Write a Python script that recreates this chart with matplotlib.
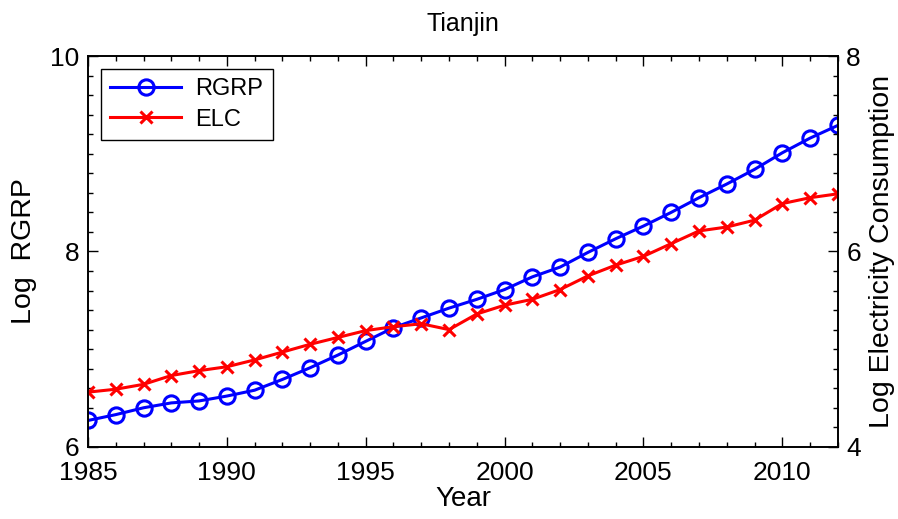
import numpy as np
import matplotlib
matplotlib.use("Agg")
import matplotlib.pyplot as plt
from matplotlib.ticker import MultipleLocator

plt.rcParams['font.family'] = ['Liberation Sans', 'DejaVu Sans']

years = np.arange(1985, 2013)
rgrp = [6.27, 6.33, 6.40, 6.45, 6.47, 6.52, 6.58, 6.69, 6.81, 6.94,
        7.08, 7.22, 7.32, 7.42, 7.51, 7.61, 7.74, 7.84, 7.99, 8.13,
        8.26, 8.40, 8.55, 8.69, 8.84, 9.01, 9.16, 9.29]
elc = [4.56, 4.59, 4.64, 4.73, 4.78, 4.82, 4.89, 4.97, 5.05, 5.12,
       5.19, 5.23, 5.26, 5.20, 5.36, 5.45, 5.51, 5.61, 5.75, 5.86,
       5.95, 6.08, 6.21, 6.25, 6.32, 6.49, 6.55, 6.59]

fig = plt.figure(figsize=(8.98, 5.19), dpi=100)
ax = fig.add_axes([0.098, 0.139, 0.835, 0.753])
ax2 = ax.twinx()

l1, = ax.plot(years, rgrp, color='blue', lw=2.2, marker='o', ms=11,
              mfc='none', mew=2.2, label='RGRP')
l2, = ax2.plot(years, elc, color='red', lw=2.2, marker='x', ms=8,
               mew=2.2, label='ELC')

ax.set_xlim(1985, 2012)
ax.set_ylim(6, 10)
ax2.set_ylim(4, 8)
ax.set_xticks([1985, 1990, 1995, 2000, 2005, 2010])
ax.set_yticks([6, 8, 10])
ax2.set_yticks([4, 6, 8])
ax.xaxis.set_minor_locator(MultipleLocator(1))
ax.yaxis.set_minor_locator(MultipleLocator(0.2))
ax2.yaxis.set_minor_locator(MultipleLocator(0.2))

ax.tick_params(which='both', direction='in', top=True, labelsize=19,
               width=1.0)
ax.tick_params(which='major', length=7)
ax.tick_params(which='minor', length=3.5)
ax.tick_params(axis='y', right=False, pad=6)
ax.tick_params(axis='x', pad=10)
ax2.tick_params(which='both', direction='in', labelsize=19, width=1.0, pad=6)
ax2.tick_params(which='major', length=7)
ax2.tick_params(which='minor', length=3.5)

for a in (ax, ax2):
    for s in a.spines.values():
        s.set_linewidth(1.2)

ax.set_xlabel('Year', fontsize=20, labelpad=1)
ax.set_ylabel('Log  RGRP', fontsize=20.5, labelpad=10)
ax2.set_ylabel('Log Electricity Consumption', fontsize=20.5, labelpad=6)
ax.set_title('Tianjin', fontsize=18, pad=18)

leg = ax.legend([l1, l2], ['RGRP', 'ELC'], loc='upper left', fontsize=17,
                fancybox=False, edgecolor='black', framealpha=1,
                handlelength=3.0, borderaxespad=0.55, labelspacing=0.35,
                handletextpad=0.6, borderpad=0.4)
leg.get_frame().set_linewidth(1.0)

fig.savefig('out.png', dpi=100)
